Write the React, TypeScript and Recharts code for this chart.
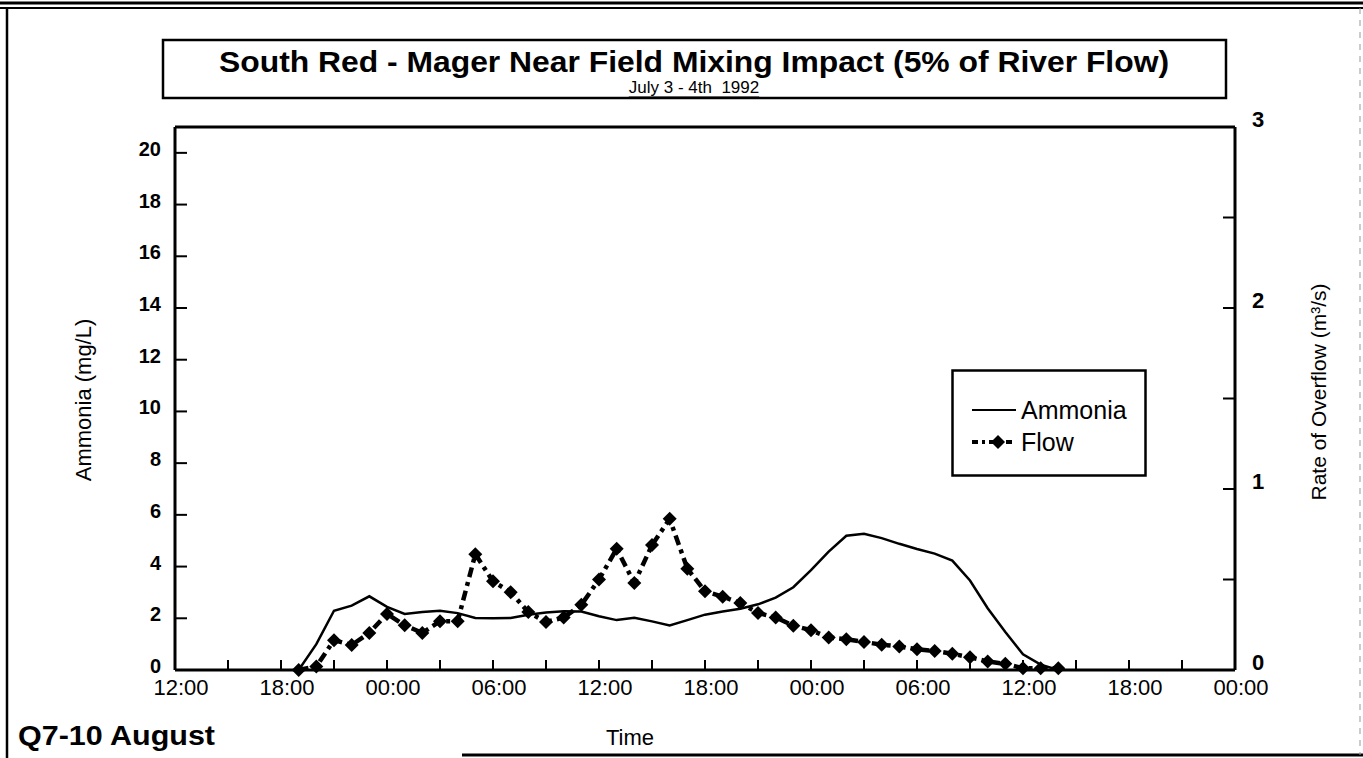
import React from "react";
import { LineChart, Line, XAxis, YAxis, ReferenceLine, Legend } from "recharts";

const FONT = "'Liberation Sans', Arial, sans-serif";

// hours counted from 12:00 on the first day shown
const hours = [
  7, 8, 9, 10, 11, 12, 13, 14, 15, 16, 17, 18, 19, 20, 21, 22, 23, 24, 25, 26, 27, 28,
  29, 30, 31, 32, 33, 34, 35, 36, 37, 38, 39, 40, 41, 42, 43, 44, 45, 46, 47, 48, 49, 50,
];

// mg/L
const ammonia = [
  0, 1.0, 2.29, 2.49, 2.85, 2.44, 2.17, 2.24, 2.29, 2.2, 2.01, 2.0, 2.01, 2.14, 2.22, 2.27,
  2.26, 2.08, 1.93, 2.02, 1.88, 1.72, 1.93, 2.14, 2.26, 2.37, 2.54, 2.8, 3.2, 3.86, 4.58,
  5.19, 5.27, 5.1, 4.88, 4.68, 4.5, 4.23, 3.46, 2.39, 1.47, 0.61, 0.21, 0,
];

// m3/s
const flow = [
  0, 0.02, 0.165, 0.138, 0.205, 0.31, 0.247, 0.205, 0.27, 0.27, 0.64, 0.49, 0.43, 0.32,
  0.265, 0.29, 0.36, 0.5, 0.67, 0.48, 0.69, 0.835, 0.56, 0.435, 0.405, 0.37, 0.315, 0.29,
  0.245, 0.22, 0.18, 0.17, 0.155, 0.14, 0.13, 0.115, 0.105, 0.09, 0.07, 0.047, 0.034, 0.01,
  0.01, 0.01,
];

const xTicks = [0, 3, 6, 9, 12, 15, 18, 21, 24, 27, 30, 33, 36, 39, 42, 45, 48, 51, 54, 57, 60];
const leftTicks = [0, 2, 4, 6, 8, 10, 12, 14, 16, 18, 20];
const rightTicks = [0, 0.5, 1, 1.5, 2, 2.5, 3];

const data = hours.map((h, i) => ({ hour: h, ammonia: ammonia[i], flow: flow[i] }));

const clock = (h: number) => {
  const hh = (12 + h) % 24;
  return (hh < 10 ? "0" : "") + hh + ":00";
};

const LeftTick = (props: any) => {
  const { x, y, payload } = props;
  const ax = x + 14;
  return (
    <g>
      <line x1={ax} x2={ax + 12} y1={y} y2={y} stroke="#000" strokeWidth={2} />
      <text x={x} y={y - 4} textAnchor="end" dominantBaseline="central" fontSize={20}
        fontWeight="bold" fontFamily={FONT} fill="#000">
        {payload.value}
      </text>
    </g>
  );
};

const RightTick = (props: any) => {
  const { x, y, payload } = props;
  const ax = x - 17;
  const whole = payload.value % 1 === 0;
  return (
    <g>
      <line x1={ax} x2={ax - 12} y1={y} y2={y} stroke="#000" strokeWidth={2} />
      {whole && (
        <text x={x} y={y - 8} textAnchor="start" dominantBaseline="central" fontSize={22}
          fontWeight="bold" fontFamily={FONT} fill="#000">
          {payload.value}
        </text>
      )}
    </g>
  );
};

const BottomTick = (props: any) => {
  const { x, y, payload } = props;
  const ay = y - 8;
  const labelled = payload.value % 6 === 0;
  return (
    <g>
      <line x1={x} x2={x} y1={ay} y2={ay - 10} stroke="#000" strokeWidth={2} />
      {labelled && (
        <text x={x + 6} y={y + 9} textAnchor="middle" dominantBaseline="central" fontSize={22}
          fontFamily={FONT} fill="#000">
          {clock(payload.value)}
        </text>
      )}
    </g>
  );
};

const Diamond = (props: any) => {
  const { cx, cy, index } = props;
  if (cx == null || cy == null) return null;
  const s = 7;
  return (
    <polygon key={"d" + index}
      points={`${cx},${cy - s} ${cx + s},${cy} ${cx},${cy + s} ${cx - s},${cy}`}
      fill="#000" />
  );
};

const LegendBox = (props: any) => {
  const items = props.payload || [];
  return (
    <svg width={196} height={108} style={{ display: "block" }}>
      <rect x={1.5} y={1.5} width={193} height={105} fill="#fff" stroke="#000" strokeWidth={2.5} />
      {items.map((it: any, i: number) => {
        const y = 41 + i * 32;
        const dashed = it.dataKey === "flow";
        return (
          <g key={i}>
            <line x1={21} x2={65} y1={y} y2={y} stroke="#000" strokeWidth={dashed ? 4 : 2}
              strokeDasharray={dashed ? "6 4 3 4" : undefined} />
            {dashed && <polygon points={`47,${y - 7} 54,${y} 47,${y + 7} 40,${y}`} fill="#000" />}
            <text x={70} y={y} dominantBaseline="central" fontSize={25} fontFamily={FONT} fill="#000">
              {it.value}
            </text>
          </g>
        );
      })}
    </svg>
  );
};

export default function App() {
  return (
    <div style={{ position: "absolute", left: 0, top: 0, width: 1363, height: 758, background: "#fff" }}>
      <LineChart width={1363} height={758} data={data}
        margin={{ top: 127, right: 68, bottom: 58, left: 115 }}>
        <XAxis dataKey="hour" type="number" domain={[0, 60]} ticks={xTicks} interval={0}
          height={30} axisLine={{ stroke: "#000", strokeWidth: 3 }} tickLine={false}
          tickSize={0} tickMargin={8} tick={BottomTick} />
        <YAxis yAxisId="left" domain={[0, 21]} ticks={leftTicks} interval={0} width={60}
          axisLine={{ stroke: "#000", strokeWidth: 3 }} tickLine={false} tickSize={0}
          tickMargin={14} tick={LeftTick} />
        <YAxis yAxisId="right" orientation="right" domain={[0, 3]} ticks={rightTicks}
          interval={0} width={60} axisLine={{ stroke: "#000", strokeWidth: 3 }}
          tickLine={false} tickSize={0} tickMargin={17} tick={RightTick} />
        <ReferenceLine yAxisId="left" y={21} stroke="#000" strokeWidth={3} />
        <Line yAxisId="left" dataKey="ammonia" name="Ammonia" type="linear" stroke="#000"
          strokeWidth={2.5} dot={false} isAnimationActive={false} />
        <Line yAxisId="right" dataKey="flow" name="Flow" type="linear" stroke="#000"
          strokeWidth={4.5} strokeDasharray="10 5 4 5" dot={Diamond} activeDot={false}
          isAnimationActive={false} />
        <Legend layout="vertical" align="center" verticalAlign="middle" content={LegendBox}
          wrapperStyle={{ left: 951, top: 369, width: 196, height: 108 }} />
      </LineChart>

      <svg width={1363} height={758}
        style={{ position: "absolute", left: 0, top: 0, pointerEvents: "none" }}>
        <line x1={0} x2={1363} y1={3} y2={3} stroke="#000" strokeWidth={3} />
        <line x1={0} x2={1363} y1={8} y2={8} stroke="#000" strokeWidth={2} />
        <line x1={7} x2={7} y1={8} y2={758} stroke="#000" strokeWidth={2.5} />
        <line x1={462} x2={1363} y1={755} y2={755} stroke="#000" strokeWidth={3} />
        <line x1={1360} x2={1360} y1={8} y2={755} stroke="#999" strokeWidth={1} strokeDasharray="6 6" />
        <rect x={163} y={40} width={1063} height={58} fill="none" stroke="#000" strokeWidth={2.5} />
        <text x={694} y={61} textAnchor="middle" dominantBaseline="central" fontSize={30}
          fontWeight="bold" fontFamily={FONT} textLength={950} lengthAdjust="spacingAndGlyphs">
          South Red - Mager Near Field Mixing Impact (5% of River Flow)
        </text>
        <text x={694} y={87} textAnchor="middle" dominantBaseline="central" fontSize={17}
          fontFamily={FONT} textDecoration="underline" style={{ whiteSpace: "pre" }}>
          July 3 - 4th  1992
        </text>
        <text transform="translate(83,400) rotate(-90)" textAnchor="middle"
          dominantBaseline="central" fontSize={22} fontFamily={FONT}>
          Ammonia (mg/L)
        </text>
        <text transform="translate(1318,392) rotate(-90)" textAnchor="middle"
          dominantBaseline="central" fontSize={21} fontFamily={FONT}>
          Rate of Overflow (m³/s)
        </text>
        <text x={630} y={737} textAnchor="middle" dominantBaseline="central" fontSize={22}
          fontFamily={FONT}>
          Time
        </text>
        <text x={18} y={736} dominantBaseline="central" fontSize={27} fontWeight="bold"
          fontFamily={FONT} textLength={197} lengthAdjust="spacingAndGlyphs">
          Q7-10 August
        </text>
      </svg>
    </div>
  );
}
